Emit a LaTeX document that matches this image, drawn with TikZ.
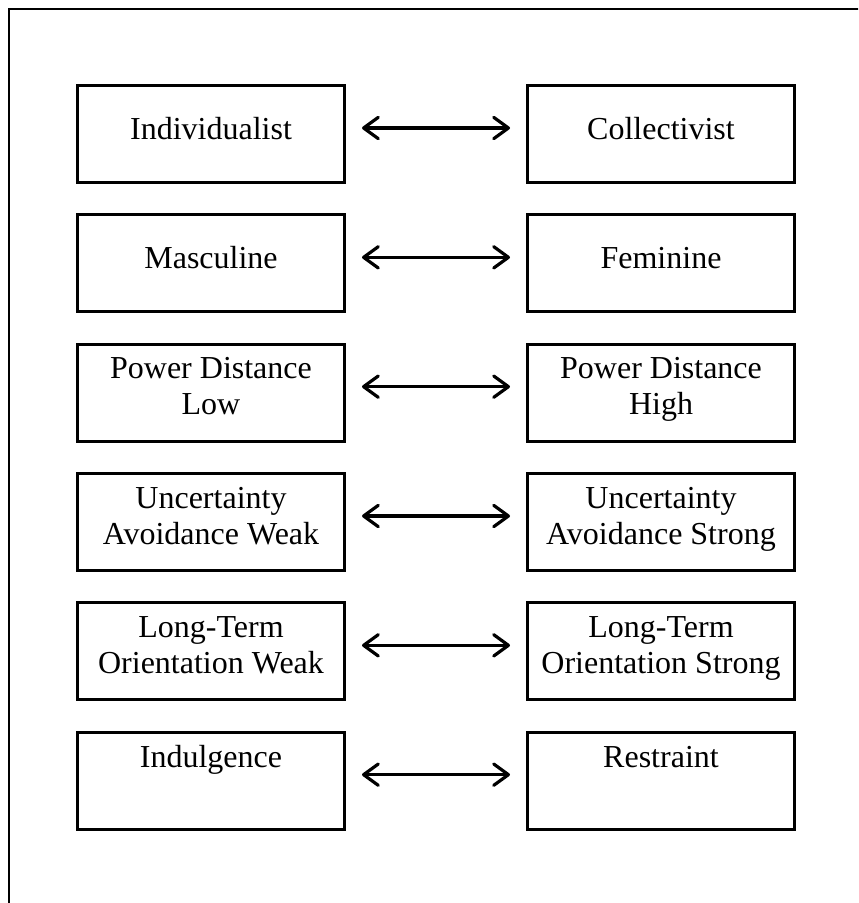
\documentclass[tikz,border=0pt]{standalone}
\usepackage{fontspec}
\setmainfont{Liberation Serif}
\usetikzlibrary{positioning}
\usetikzlibrary{arrows.meta}
\newcommand{\dimstrut}{\rule[-9.4pt]{0pt}{27pt}}
\tikzset{dimbox/.style={rectangle,draw=black,line width=2.25pt,
    minimum width=200.25pt,minimum height=72.75pt,inner sep=0pt,
    align=center,font=\fontsize{24}{27}\selectfont,
    execute at begin node=\dimstrut,execute at end node=\dimstrut},
    dimarrow/.style={{Straight Barb[length=11pt,width=16pt,round]}-{Straight Barb[length=11pt,width=16pt,round]},
    line width=2.4pt,shorten <=12pt,shorten >=12pt},
    frameline/.style={draw=black,line width=1.5pt}}

\begin{document}
\begin{tikzpicture}[x=0.75pt,y=-0.75pt,node distance=22pt and 135pt]
        \useasboundingbox (0,0) rectangle (858,903);
        \begin{scope}
        \clip (0,0) rectangle (858,903);
        \draw[frameline] (9,9) rectangle (880,930);
        \end{scope}
        \node[dimbox] (ind) at (211,134) {Individualist};
        \node[dimbox,right=of ind] (col) {Collectivist};
        \node[dimbox,below=of ind] (mas) {Masculine};
        \node[dimbox,right=of mas] (fem) {Feminine};
        \node[dimbox,below=of mas] (pdl) {Power Distance\\Low};
        \node[dimbox,right=of pdl] (pdh) {Power Distance\\High};
        \node[dimbox,below=of pdl] (uaw) {Uncertainty\\Avoidance Weak};
        \node[dimbox,right=of uaw] (uas) {Uncertainty\\Avoidance Strong};
        \node[dimbox,below=of uaw] (ltw) {Long-Term\\Orientation Weak};
        \node[dimbox,right=of ltw] (lts) {Long-Term\\Orientation Strong};
        \node[dimbox,below=of ltw] (ind2) {Indulgence\\};
        \node[dimbox,right=of ind2] (res) {Restraint\\};
        \foreach \a/\b in {ind/col,mas/fem,pdl/pdh,uaw/uas,ltw/lts,ind2/res}
        \draw[dimarrow]([yshift=4.5pt]\a.east)--([yshift=4.5pt]\b.west);
    \end{tikzpicture}
\end{document}
